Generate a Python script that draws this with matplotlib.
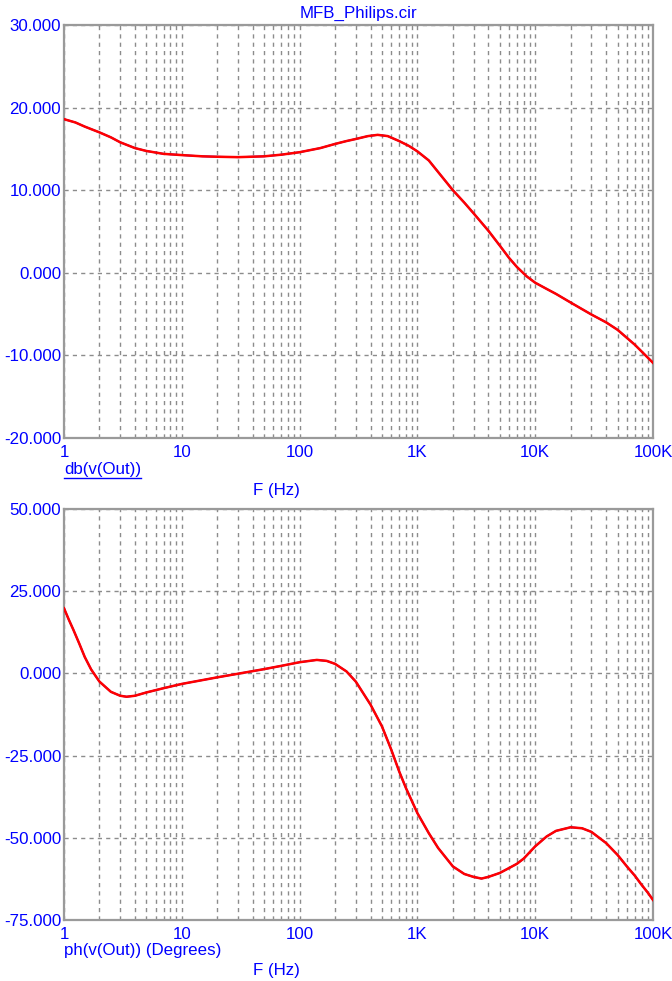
import matplotlib
matplotlib.use("Agg")
import matplotlib.pyplot as plt
from matplotlib.ticker import FixedLocator, FixedFormatter, LogLocator, NullFormatter
from matplotlib.lines import Line2D

plt.rcParams['font.family'] = ['Liberation Sans', 'DejaVu Sans']

# ---- data ----
freq_mag = [1, 1.25, 1.5, 2, 2.5, 3, 4, 5, 7, 10, 15, 20, 30, 50, 70, 100, 150, 200, 250, 300,
            380, 460, 560, 700, 850, 1000, 1250, 1500, 2000, 2500, 3000, 4000, 5000, 6000,
            7000, 8500, 10000, 12500, 15000, 20000, 25000, 30000, 40000, 50000, 70000, 100000]
mag_db = [18.6, 18.2, 17.7, 17.0, 16.4, 15.8, 15.1, 14.75, 14.4, 14.25, 14.1, 14.05, 14.0, 14.1,
          14.3, 14.6, 15.1, 15.6, 15.95, 16.2, 16.55, 16.7, 16.55, 15.95, 15.35, 14.7, 13.6,
          12.2, 10.0, 8.5, 7.2, 5.1, 3.3, 1.8, 0.7, -0.45, -1.2, -1.95, -2.55, -3.6, -4.4,
          -5.05, -6.0, -6.9, -8.7, -10.9]

freq_ph = [1, 1.1, 1.2, 1.35, 1.5, 1.7, 2, 2.5, 3, 3.4, 4, 5, 7, 10, 20, 30, 50, 70, 100, 140,
           170, 200, 250, 300, 400, 500, 600, 700, 800, 900, 1000, 1250, 1500, 2000, 2500,
           3000, 3500, 4000, 5000, 6000, 7000, 8000, 10000, 12500, 15000, 20000, 25000, 30000,
           40000, 50000, 60000, 70000, 80000, 90000, 100000]
phase_deg = [19.8, 16.3, 13.3, 9.0, 5.0, 1.2, -2.5, -5.6, -6.8, -7.1, -6.8, -5.8, -4.5, -3.2,
             -1.2, -0.1, 1.3, 2.3, 3.4, 4.1, 3.8, 2.9, 0.6, -2.5, -9.5, -16.1, -23.2, -29.8,
             -34.9, -38.9, -42.5, -48.6, -53.1, -58.7, -61.0, -61.9, -62.4, -61.9, -60.7,
             -59.2, -57.9, -56.3, -52.6, -49.6, -47.9, -46.8, -47.1, -48.2, -51.6, -55.2,
             -58.7, -61.5, -64.3, -66.6, -68.9]

x_ticks = [1, 10, 100, 1000, 10000, 100000]
x_labels = ["1", "10", "100", "1K", "10K", "100K"]
mag_yticks = [-20, -10, 0, 10, 20, 30]
mag_ylabels = ["-20.000", "-10.000", "0.000", "10.000", "20.000", "30.000"]
ph_yticks = [-75, -50, -25, 0, 25, 50]
ph_ylabels = ["-75.000", "-50.000", "-25.000", "0.000", "25.000", "50.000"]

BLUE = "#0000FF"
RED = "#FF0000"
GRID = "#8c8c8c"
SPINE = "#9a9a9a"
FS = 12.2

W, H = 672, 981
fig = plt.figure(figsize=(W / 100, H / 100), dpi=100)

def px_axes(l, t, r, b):
    return [l / W, 1 - b / H, (r - l) / W, (b - t) / H]

ax1 = fig.add_axes(px_axes(64, 25, 653, 438))
ax2 = fig.add_axes(px_axes(64, 509, 653, 920))

def style(ax, yticks, ylabels, ylim):
    ax.set_xscale('log')
    ax.set_xlim(1, 100000)
    ax.set_ylim(*ylim)
    ax.xaxis.set_major_locator(FixedLocator(x_ticks))
    ax.xaxis.set_major_formatter(FixedFormatter(x_labels))
    ax.xaxis.set_minor_locator(LogLocator(base=10, subs=[2, 3, 4, 5, 6, 7, 8, 9], numticks=20))
    ax.xaxis.set_minor_formatter(NullFormatter())
    ax.yaxis.set_major_locator(FixedLocator(yticks))
    ax.yaxis.set_major_formatter(FixedFormatter(ylabels))
    ax.tick_params(which='both', length=0, colors=BLUE, labelsize=FS)
    ax.tick_params(axis='x', pad=5)
    ax.tick_params(axis='y', pad=2)
    ax.grid(True, which='both', axis='x', ls=(0, (3, 3)), color=GRID, lw=1)
    ax.grid(True, which='major', axis='y', ls=(0, (3, 3)), color=GRID, lw=1)
    ax.set_axisbelow(True)
    for s in ax.spines.values():
        s.set_color(SPINE)
        s.set_linewidth(1.6)

style(ax1, mag_yticks, mag_ylabels, (-20, 30))
style(ax2, ph_yticks, ph_ylabels, (-75, 50))

ax1.plot(freq_mag, mag_db, color=BLUE, lw=1.3, zorder=3)
ax1.plot(freq_mag, mag_db, color=RED, lw=1.8, zorder=4, solid_joinstyle='round')
ax2.plot(freq_ph, phase_deg, color=BLUE, lw=1.3, zorder=3)
ax2.plot(freq_ph, phase_deg, color=RED, lw=1.8, zorder=4, solid_joinstyle='round')

fig.text(358 / W, 1 - 13 / H, "MFB_Philips.cir", color=BLUE, fontsize=FS, ha='center', va='center')

t_db = fig.text(64 / W, 1 - 469 / H, "db(v(Out))", color=BLUE, fontsize=FS, ha='left', va='center')
fig.text(276 / W, 1 - 490 / H, "F (Hz)", color=BLUE, fontsize=FS, ha='center', va='center')
fig.text(64 / W, 1 - 951 / H, "ph(v(Out)) (Degrees)", color=BLUE, fontsize=FS, ha='left', va='center')
fig.text(276 / W, 1 - 970 / H, "F (Hz)", color=BLUE, fontsize=FS, ha='center', va='center')

# underline for db(v(Out))
fig.canvas.draw()
bb = t_db.get_window_extent(renderer=fig.canvas.get_renderer())
yline = (bb.y0 - 1) / H
fig.add_artist(Line2D([bb.x0 / W, bb.x1 / W], [yline, yline], color=BLUE, lw=1,
                      transform=fig.transFigure))

fig.savefig("out.png", dpi=100)
